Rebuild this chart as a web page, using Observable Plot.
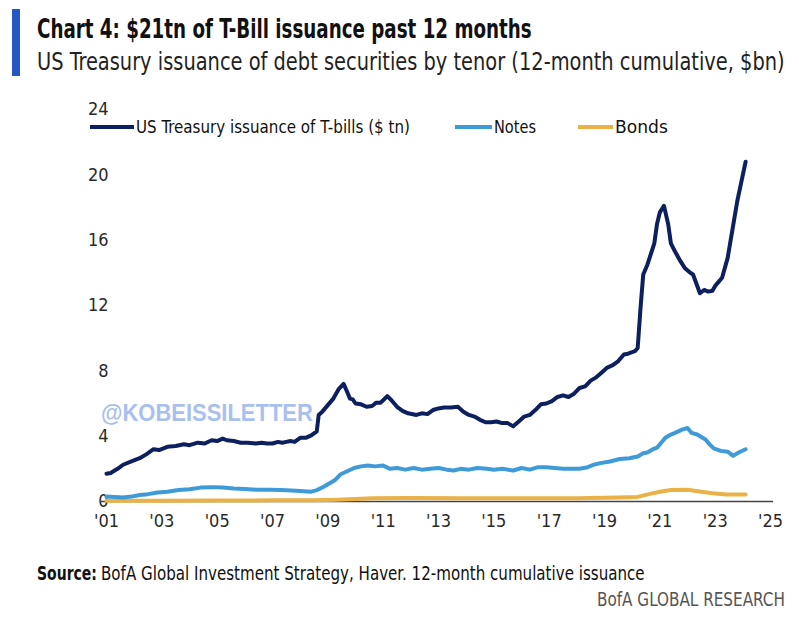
<!DOCTYPE html>
<html><head><meta charset="utf-8">
<script src="https://cdn.jsdelivr.net/npm/d3@7"></script>
<script src="https://cdn.jsdelivr.net/npm/@observablehq/plot@0.6"></script>
<style>
body{margin:0;background:#fff;width:799px;height:624px;position:relative;overflow:hidden}
.ov{position:absolute;left:0;top:0}
#chart{position:absolute;left:0;top:90px}
.cf{font-family:"Liberation Sans Narrow","DejaVu Sans Condensed","Roboto",sans-serif}
</style></head>
<body>
<svg class="ov" width="799" height="90">
  <rect x="12" y="9" width="8" height="67" fill="#2457c5"/>
  <text class="cf fit" data-x="37" data-y="38" data-w="495" font-size="27" font-weight="700" fill="#111">Chart 4: $21tn of T-Bill issuance past 12 months</text>
  <text class="cf fit" data-x="37" data-y="70" data-w="748" font-size="25" fill="#222">US Treasury issuance of debt securities by tenor (12-month cumulative, $bn)</text>
</svg>
<div id="chart"></div>
<svg class="ov" width="799" height="624" style="pointer-events:none">
  <g class="cf" font-size="18" fill="#111">
    <line x1="90" x2="134" y1="127" y2="127" stroke="#0c1f5e" stroke-width="4"/>
    <text class="fit" data-x="136" data-y="133" data-w="274">US Treasury issuance of T-bills ($ tn)</text>
    <line x1="455" x2="492" y1="127" y2="127" stroke="#3f9ad8" stroke-width="4"/>
    <text class="fit" data-x="494" data-y="133" data-w="42">Notes</text>
    <line x1="578" x2="613" y1="127" y2="127" stroke="#e9b146" stroke-width="4"/>
    <text class="fit" data-x="615" data-y="133" data-w="53">Bonds</text>
  </g>
  <text class="fit" data-x="101" data-y="421" data-w="212" font-family="Liberation Sans, Arial, sans-serif" font-weight="700" font-size="24" fill="#a9c0ef">@KOBEISSILETTER</text>
  <text class="cf fit" data-x="37" data-y="580" data-w="60" font-size="20" font-weight="700" fill="#111">Source:</text>
  <text class="cf fit" data-x="101" data-y="580" data-w="544" font-size="20" fill="#111">BofA Global Investment Strategy, Haver. 12-month cumulative issuance</text>
  <text class="cf fit" data-x="597" data-y="606" data-w="188" font-size="20" fill="#555">BofA GLOBAL RESEARCH</text>
</svg>
<script>
// T-bills ($tn), 12-month cumulative: [year, value]
const billsPts = [
[2001.0,1.7],[2001.15,1.75],[2001.4,2.0],[2001.6,2.25],[2001.9,2.45],[2002.2,2.65],[2002.45,2.9],[2002.7,3.2],[2002.9,3.15],
[2003.2,3.35],[2003.5,3.4],[2003.8,3.5],[2004.0,3.45],[2004.3,3.6],[2004.55,3.55],[2004.8,3.75],[2005.0,3.7],[2005.2,3.85],
[2005.35,3.75],[2005.6,3.7],[2005.85,3.6],[2006.1,3.6],[2006.4,3.55],[2006.6,3.6],[2006.8,3.55],[2007.0,3.55],[2007.2,3.65],
[2007.35,3.6],[2007.5,3.65],[2007.65,3.7],[2007.8,3.65],[2008.0,3.9],[2008.2,3.9],[2008.4,4.05],[2008.6,4.3],[2008.67,5.3],
[2008.8,5.5],[2009.0,5.9],[2009.2,6.3],[2009.4,6.9],[2009.57,7.2],[2009.7,6.7],[2009.8,6.3],[2009.9,6.25],[2010.0,6.0],
[2010.2,5.95],[2010.4,5.8],[2010.6,5.85],[2010.75,6.05],[2010.9,6.05],[2011.0,6.2],[2011.15,6.45],[2011.3,6.2],[2011.5,5.8],
[2011.7,5.55],[2011.9,5.4],[2012.2,5.3],[2012.4,5.4],[2012.6,5.35],[2012.8,5.6],[2013.0,5.7],[2013.2,5.75],[2013.45,5.75],
[2013.7,5.8],[2013.9,5.5],[2014.1,5.3],[2014.3,5.2],[2014.5,5.0],[2014.7,4.85],[2014.9,4.85],[2015.1,4.9],[2015.3,4.8],
[2015.5,4.8],[2015.7,4.6],[2015.9,4.9],[2016.1,5.2],[2016.3,5.3],[2016.5,5.6],[2016.7,5.95],[2016.9,6.0],[2017.1,6.15],
[2017.3,6.4],[2017.5,6.5],[2017.7,6.4],[2017.9,6.6],[2018.1,6.95],[2018.3,7.05],[2018.5,7.4],[2018.7,7.6],[2018.9,7.9],
[2019.1,8.2],[2019.3,8.35],[2019.5,8.6],[2019.7,9.0],[2019.85,9.05],[2020.1,9.2],[2020.2,9.4],[2020.3,11.8],[2020.4,13.9],
[2020.55,14.5],[2020.8,15.8],[2020.9,17.0],[2021.0,17.7],[2021.15,18.1],[2021.3,17.0],[2021.4,15.8],[2021.55,15.3],
[2021.75,14.7],[2021.9,14.3],[2022.1,14.0],[2022.2,13.9],[2022.45,12.75],[2022.6,12.95],[2022.75,12.85],[2022.9,12.9],
[2023.0,13.2],[2023.25,13.7],[2023.45,14.9],[2023.6,16.4],[2023.8,18.4],[2023.95,19.6],[2024.1,20.8]
];
// Notes
const notesPts = [
[2001.0,0.3],[2001.3,0.28],[2001.6,0.25],[2001.9,0.3],[2002.2,0.4],[2002.5,0.45],[2002.85,0.55],[2003.2,0.6],[2003.6,0.7],
[2004.0,0.75],[2004.4,0.85],[2004.85,0.88],[2005.2,0.85],[2005.6,0.8],[2006.0,0.77],[2006.45,0.72],[2006.9,0.72],[2007.3,0.7],
[2007.7,0.68],[2008.0,0.65],[2008.4,0.6],[2008.6,0.7],[2008.85,0.9],[2009.05,1.1],[2009.25,1.3],[2009.45,1.65],[2009.7,1.85],
[2009.95,2.05],[2010.2,2.15],[2010.45,2.2],[2010.7,2.15],[2011.0,2.2],[2011.25,2.0],[2011.5,2.05],[2011.8,1.95],[2012.1,2.05],
[2012.4,1.95],[2012.7,2.0],[2013.0,2.05],[2013.3,1.95],[2013.55,1.9],[2013.8,2.0],[2014.1,1.95],[2014.4,2.05],[2014.75,2.0],
[2015.0,1.95],[2015.3,2.0],[2015.7,1.9],[2016.0,2.05],[2016.3,1.95],[2016.6,2.1],[2016.9,2.1],[2017.2,2.05],[2017.5,2.0],
[2017.75,2.0],[2018.1,2.0],[2018.4,2.1],[2018.6,2.25],[2018.85,2.35],[2019.2,2.45],[2019.55,2.6],[2019.9,2.65],[2020.2,2.75],
[2020.4,2.95],[2020.55,3.0],[2020.75,3.2],[2020.9,3.3],[2021.05,3.6],[2021.2,3.9],[2021.4,4.1],[2021.55,4.2],[2021.8,4.4],
[2022.0,4.5],[2022.15,4.2],[2022.35,4.1],[2022.5,3.95],[2022.65,3.8],[2022.8,3.5],[2022.95,3.25],[2023.2,3.1],[2023.45,3.05],
[2023.65,2.8],[2023.85,3.0],[2024.1,3.2]
];
// Bonds
const bondsPts = [
[2001.0,0.05],[2003.0,0.05],[2005.0,0.06],[2007.0,0.07],[2008.5,0.07],[2009.3,0.1],[2010.0,0.15],[2010.6,0.2],[2012.0,0.22],
[2014.0,0.2],[2016.0,0.2],[2018.0,0.2],[2019.5,0.25],[2020.2,0.28],[2020.6,0.45],[2021.0,0.6],[2021.4,0.7],[2022.0,0.72],
[2022.5,0.6],[2022.9,0.5],[2023.4,0.43],[2024.1,0.43]
];
const xTicks = [2001,2003,2005,2007,2009,2011,2013,2015,2017,2019,2021,2023,2025];
const yTicks = [0,4,8,12,16,20,24];

const toRows = pts => pts.map(([t, v]) => ({t, v}));
const font = '"Liberation Sans Narrow","DejaVu Sans Condensed","Roboto",sans-serif';

const chart = Plot.plot({
  width: 799, height: 451,
  marginLeft: 106, marginRight: 29, marginTop: 19, marginBottom: 40,
  x: {domain: [2001, 2025]},
  y: {domain: [0, 24]},
  style: {fontSize: "18px", fontFamily: font, color: "#2a2a2a", background: "transparent", overflow: "visible"},
  marks: [
    Plot.axisX({ticks: xTicks, tickFormat: d => "'" + String(d).slice(2), tickSize: 0, tickPadding: 13, label: null}),
    Plot.axisY({ticks: yTicks, tickSize: 0, tickPadding: -2, label: null}),
    Plot.ruleY([0], {stroke: "#444", strokeWidth: 1.5, insetLeft: -6, insetRight: -3}),
    Plot.line(toRows(bondsPts), {x: "t", y: "v", stroke: "#e9b146", strokeWidth: 4}),
    Plot.line(toRows(notesPts), {x: "t", y: "v", stroke: "#3f9ad8", strokeWidth: 4}),
    Plot.line(toRows(billsPts), {x: "t", y: "v", stroke: "#0c1f5e", strokeWidth: 4})
  ]
});
document.getElementById("chart").appendChild(chart);

// squeeze overlay texts horizontally to the reference widths
document.querySelectorAll("text.fit").forEach(el => {
  const w = el.getComputedTextLength();
  const s = +el.dataset.w / w;
  el.setAttribute("transform", `translate(${el.dataset.x},${el.dataset.y}) scale(${s},1)`);
});
</script>
</body></html>
